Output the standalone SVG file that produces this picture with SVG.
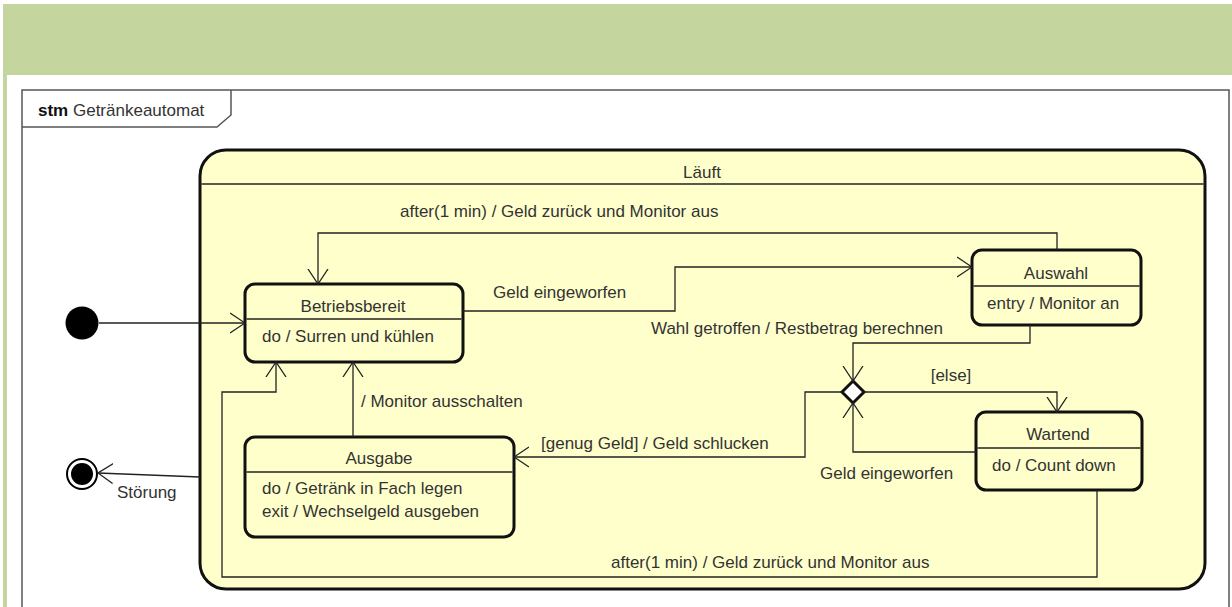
<svg xmlns="http://www.w3.org/2000/svg" width="1232" height="607" viewBox="0 0 1232 607">
<style>
text{font-family:"Liberation Sans",Arial,sans-serif;font-size:17px;fill:#333}
.c{text-anchor:middle}
.st{fill:#ffffcc;stroke:#111;stroke-width:3}
.div{stroke:#222;stroke-width:1.3}
.ln{fill:none;stroke:#222;stroke-width:1.3}
.ah{fill:none;stroke:#222;stroke-width:1.3}
</style>
<defs>
<marker id="arr" viewBox="0 0 16 22" refX="15" refY="11" markerWidth="16" markerHeight="22" markerUnits="userSpaceOnUse" orient="auto">
<path d="M0,1 L15,11 L0,21" fill="none" stroke="#222" stroke-width="1.3"/>
</marker>
</defs>
<rect x="0" y="0" width="1232" height="607" fill="#fff"/>
<rect x="3" y="4" width="1229" height="71" fill="#c4d59e"/>
<rect x="3" y="75" width="4" height="532" fill="#c4d59e"/>
<g id="frame">
<path d="M22,607 L22,90 L1229,90 L1229,607" fill="none" stroke="#555" stroke-width="1.5"/>
<path d="M22,127 L217,127 L231,115 L231,90" fill="none" stroke="#555" stroke-width="1.5"/>
<text x="38" y="116"><tspan font-weight="bold" fill="#111">stm</tspan> Getränkeautomat</text>
</g>
<g id="laeuft">
<rect x="200" y="150" width="1005" height="439" rx="26" class="st"/>
<line x1="201.5" y1="184" x2="1203.5" y2="184" class="div"/>
<text x="702" y="178" class="c">Läuft</text>
</g>
<g id="initial"><circle cx="82" cy="323" r="16.5" fill="#000"/></g>
<g id="final">
<circle cx="82" cy="474" r="15" fill="#fff" stroke="#000" stroke-width="2"/>
<circle cx="82" cy="474" r="11" fill="#000"/>
</g>
<g id="betriebsbereit">
<rect x="245" y="284" width="218" height="78" rx="10" class="st"/>
<line x1="246.5" y1="319" x2="461.5" y2="319" class="div"/>
<text x="353" y="312" class="c">Betriebsbereit</text>
<text x="262" y="342">do / Surren und kühlen</text>
</g>
<g id="auswahl">
<rect x="972" y="250" width="169" height="75" rx="10" class="st"/>
<line x1="973.5" y1="286" x2="1139.5" y2="286" class="div"/>
<text x="1056" y="279" class="c">Auswahl</text>
<text x="987" y="309">entry / Monitor an</text>
</g>
<g id="wartend">
<rect x="976" y="412" width="166" height="78" rx="10" class="st"/>
<line x1="977.5" y1="448" x2="1140.5" y2="448" class="div"/>
<text x="1058" y="440" class="c">Wartend</text>
<text x="992" y="471">do / Count down</text>
</g>
<g id="ausgabe">
<rect x="245" y="437" width="269" height="100" rx="10" class="st"/>
<line x1="246.5" y1="472" x2="512.5" y2="472" class="div"/>
<text x="379" y="464" class="c">Ausgabe</text>
<text x="262" y="494">do / Getränk in Fach legen</text>
<text x="262" y="517">exit / Wechselgeld ausgeben</text>
</g>
<g id="choice">
<path d="M853,381 L864,392 L853,403 L842,392 Z" fill="#fff" stroke="#111" stroke-width="3"/>
</g>
<g id="connectors">
<path d="M99,323 L245,323" class="ln" marker-end="url(#arr)"/>
<path d="M200,477 L98,473" class="ln" marker-end="url(#arr)"/>
<path d="M1057,250 L1057,233 L318,233 L318,284" class="ln" marker-end="url(#arr)"/>
<path d="M463,311 L675,311 L675,267 L972,267" class="ln" marker-end="url(#arr)"/>
<path d="M1030,325 L1030,343 L853,343 L853,381" class="ln" marker-end="url(#arr)"/>
<path d="M864,392 L1057,392 L1057,412" class="ln" marker-end="url(#arr)"/>
<path d="M976,452 L853,452 L853,403" class="ln" marker-end="url(#arr)"/>
<path d="M842,392 L805,392 L805,457 L514,457" class="ln" marker-end="url(#arr)"/>
<path d="M353,437 L353,362" class="ln" marker-end="url(#arr)"/>
<path d="M1097,490 L1097,577 L222,577 L222,392 L276,392 L276,362" class="ln" marker-end="url(#arr)"/>
</g>
<g id="labels">
<text x="117" y="498">Störung</text>
<text x="400" y="217">after(1 min) / Geld zurück und Monitor aus</text>
<text x="493" y="298">Geld eingeworfen</text>
<text x="651" y="334">Wahl getroffen / Restbetrag berechnen</text>
<text x="951" y="381" class="c">[else]</text>
<text x="820" y="479">Geld eingeworfen</text>
<text x="541" y="449">[genug Geld] / Geld schlucken</text>
<text x="361" y="407">/ Monitor ausschalten</text>
<text x="611" y="568">after(1 min) / Geld zurück und Monitor aus</text>
</g>
</svg>
